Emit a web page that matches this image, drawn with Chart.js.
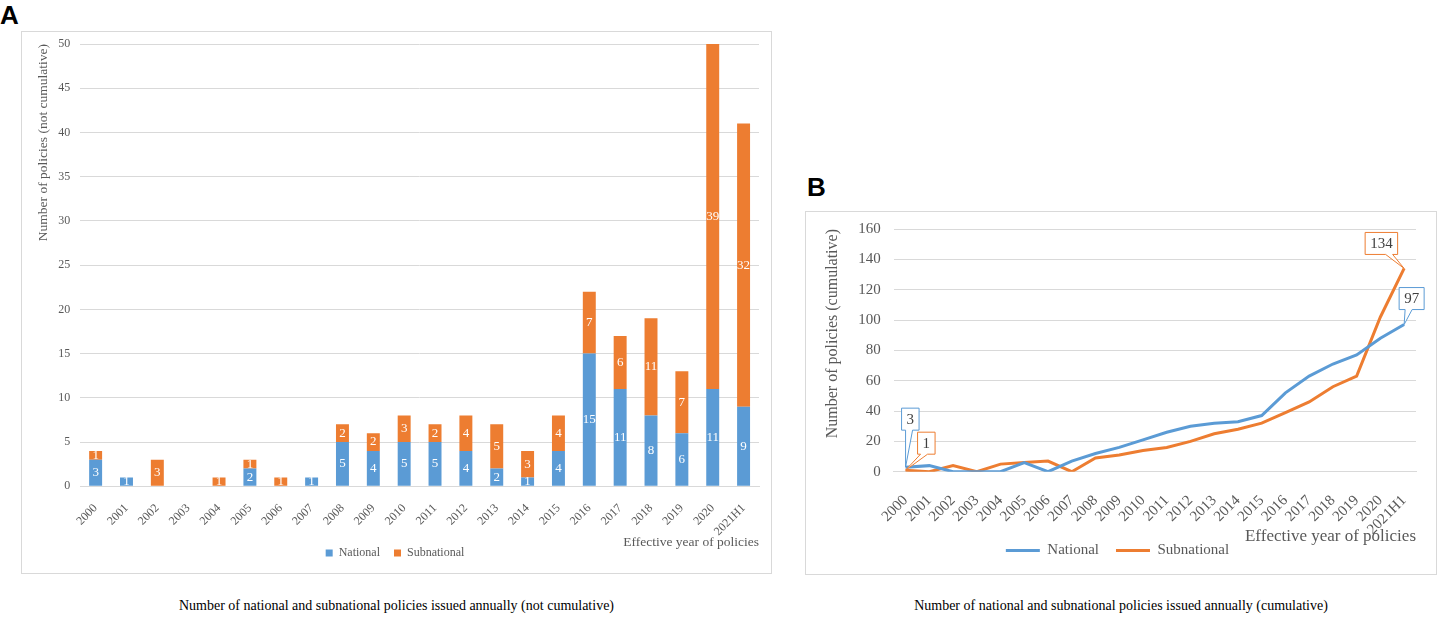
<!DOCTYPE html>
<html>
<head>
<meta charset="utf-8">
<script src="https://cdn.jsdelivr.net/npm/chart.js"></script>
<style>
  body { margin: 0; width: 1438px; height: 617px; background: #fff; position: relative; overflow: hidden; font-family: "Liberation Serif", serif; }
  .panel { position: absolute; border: 1px solid #d9d9d9; box-sizing: border-box; }
  .letter { position: absolute; font: bold 26px "Liberation Sans", Arial, sans-serif; color: #000; }
  .caption { position: absolute; font-size: 14px; color: #000; text-align: center; white-space: nowrap; }
</style>
</head>
<body>
<div class="letter" style="left:0px; top:0px;">A</div>
<div class="panel" style="left:21px; top:31px; width:751px; height:543px;"><canvas id="annualChart"></canvas></div>
<div class="caption" style="left:21px; width:751px; top:598px;">Number of national and subnational policies issued annually (not cumulative)</div>

<div class="letter" style="left:807px; top:172px;">B</div>
<div class="panel" style="left:805px; top:211px; width:632px; height:364px;"><canvas id="cumulativeChart"></canvas></div>
<div class="caption" style="left:805px; width:632px; top:598px;">Number of national and subnational policies issued annually (cumulative)</div>

<script>
const years = ['2000', '2001', '2002', '2003', '2004', '2005', '2006', '2007', '2008', '2009', '2010',
    '2011', '2012', '2013', '2014', '2015', '2016', '2017', '2018', '2019', '2020', '2021H1'];
const nationalAnnual = [3, 1, 0, 0, 0, 2, 0, 1, 5, 4, 5, 5, 4, 2, 1, 4, 15, 11, 8, 6, 11, 9];
const subnationalAnnual = [1, 0, 3, 0, 1, 1, 1, 0, 2, 2, 3, 2, 4, 5, 3, 4, 7, 6, 11, 7, 39, 32];
const nationalCumulative = [3, 4, 0, 0, 0, 6, 0, 7, 12, 16, 21, 26, 30, 32, 33, 37, 52, 63, 71, 77, 88, 97];
const subnationalCumulative = [1, 0, 4, 0, 5, 6, 7, 0, 9, 11, 14, 16, 20, 25, 28, 32, 39, 46, 56, 63, 102, 134];

const blue = '#5b9bd5';
const orange = '#ed7d31';
const grey = '#595959';
const gridGrey = '#d9d9d9';
const serif = 'Liberation Serif';

// legend items spaced a bit wider apart (like Excel)
function spacedLabels(chart) {
    const items = Chart.defaults.plugins.legend.labels.generateLabels(chart);
    items.forEach((it, i) => { if (i < items.length - 1) it.text += '    '; });
    return items;
}

// don't let the tick padding push the plot top down
function noTopPadding(scale) {
    scale.paddingTop = 0;
}

// white value labels in the middle of each stacked segment
const barLabels = {
    id: 'barLabels',
    afterDatasetsDraw(chart) {
        const ctx = chart.ctx;
        ctx.save();
        ctx.fillStyle = '#fff';
        ctx.font = '13px "' + serif + '"';
        ctx.textAlign = 'center';
        ctx.textBaseline = 'middle';
        chart.data.datasets.forEach((ds, i) => {
            chart.getDatasetMeta(i).data.forEach((bar, j) => {
                const v = ds.data[j];
                if (!v) return;
                const p = bar.getProps(['x', 'y', 'base'], true);
                ctx.fillText(String(v), p.x, (p.y + p.base) / 2);
            });
        });
        ctx.restore();
    }
};

// Excel-like callout boxes pointing at a data point
const callouts = {
    id: 'callouts',
    afterDatasetsDraw(chart, args, opts) {
        const ctx = chart.ctx;
        ctx.save();
        ctx.font = '15px "' + serif + '"';
        opts.items.forEach(c => {
            const ds = chart.data.datasets[c.dataset];
            const pt = chart.getDatasetMeta(c.dataset).data[c.index];
            const text = String(ds.data[c.index]);
            const w = ctx.measureText(text).width + 10;
            const h = 22;
            const bx = pt.x + c.dx, by = pt.y + c.dy;
            const t1 = c.tail === 'right' ? w - 12 : c.tail;
            ctx.beginPath();
            ctx.moveTo(bx, by);
            ctx.lineTo(bx + w, by);
            ctx.lineTo(bx + w, by + h);
            ctx.lineTo(bx + t1 + 7, by + h);
            ctx.lineTo(pt.x, pt.y);
            ctx.lineTo(bx + t1, by + h);
            ctx.lineTo(bx, by + h);
            ctx.closePath();
            ctx.fillStyle = '#fff';
            ctx.fill();
            ctx.strokeStyle = ds.borderColor;
            ctx.lineWidth = 1;
            ctx.stroke();
            ctx.fillStyle = '#404040';
            ctx.textAlign = 'center';
            ctx.textBaseline = 'middle';
            ctx.fillText(text, bx + w / 2, by + h / 2 + 1);
        });
        ctx.restore();
    }
};

new Chart(document.getElementById('annualChart'), {
    type: 'bar',
    data: {
        labels: years,
        datasets: [
            { label: 'National', data: nationalAnnual, backgroundColor: blue, borderWidth: 0 },
            { label: 'Subnational', data: subnationalAnnual, backgroundColor: orange, borderWidth: 0 }
        ]
    },
    options: {
        responsive: true,
        maintainAspectRatio: false,
        animation: false,
        datasets: { bar: { barPercentage: 0.42, categoryPercentage: 1 } },
        layout: { padding: { left: 9, right: 12, top: 12, bottom: 4 } },
        scales: {
            x: {
                stacked: true,
                grid: { display: false },
                border: { color: gridGrey },
                ticks: {
                    color: grey,
                    font: { family: serif, size: 12 },
                    maxRotation: 45,
                    minRotation: 45,
                    autoSkip: false,
                    padding: 7
                },
                title: {
                    display: true,
                    text: 'Effective year of policies',
                    align: 'end',
                    color: grey,
                    font: { family: serif, size: 13.5 },
                    padding: { top: -11, bottom: -6 }
                }
            },
            y: {
                stacked: true,
                min: 0,
                max: 50,
                afterFit: noTopPadding,
                ticks: { stepSize: 5, color: grey, font: { family: serif, size: 12 }, padding: 10 },
                grid: { color: gridGrey, drawTicks: false },
                border: { display: false },
                title: {
                    display: true,
                    text: 'Number of policies (not cumulative)',
                    align: 'end',
                    color: grey,
                    font: { family: serif, size: 13.5 },
                    padding: { top: 4, bottom: -3 }
                }
            }
        },
        plugins: {
            legend: {
                position: 'bottom',
                labels: {
                    boxWidth: 7,
                    boxHeight: 7,
                    color: grey,
                    font: { family: serif, size: 12 },
                    padding: 2,
                    generateLabels: spacedLabels
                }
            },
            tooltip: { enabled: false }
        }
    },
    plugins: [barLabels]
});

new Chart(document.getElementById('cumulativeChart'), {
    type: 'line',
    data: {
        labels: years,
        datasets: [
            { label: 'National', data: nationalCumulative, borderColor: blue, backgroundColor: blue, borderWidth: 3, pointRadius: 0, tension: 0 },
            { label: 'Subnational', data: subnationalCumulative, borderColor: orange, backgroundColor: orange, borderWidth: 3, pointRadius: 0, tension: 0 }
        ]
    },
    options: {
        responsive: true,
        maintainAspectRatio: false,
        animation: false,
        layout: { padding: { left: 13, right: 20, top: 17, bottom: 6 } },
        scales: {
            x: {
                offset: true,
                grid: { display: false },
                border: { color: gridGrey },
                ticks: {
                    color: grey,
                    font: { family: serif, size: 15 },
                    maxRotation: 45,
                    minRotation: 45,
                    autoSkip: false,
                    padding: 12
                },
                title: {
                    display: true,
                    text: 'Effective year of policies',
                    align: 'end',
                    color: grey,
                    font: { family: serif, size: 17 },
                    padding: { top: -24, bottom: -6 }
                }
            },
            y: {
                min: 0,
                max: 160,
                afterFit: noTopPadding,
                ticks: { stepSize: 20, color: grey, font: { family: serif, size: 15 }, padding: 13 },
                grid: { color: gridGrey, drawTicks: false },
                border: { display: false },
                title: {
                    display: true,
                    text: 'Number of policies (cumulative)',
                    align: 'end',
                    color: grey,
                    font: { family: serif, size: 16 },
                    padding: { top: 4, bottom: 3 }
                }
            }
        },
        plugins: {
            legend: {
                position: 'bottom',
                labels: {
                    usePointStyle: true,
                    pointStyle: 'line',
                    pointStyleWidth: 34,
                    color: grey,
                    font: { family: serif, size: 15 },
                    padding: 2,
                    generateLabels: spacedLabels
                }
            },
            tooltip: { enabled: false },
            callouts: {
                items: [
                    { dataset: 0, index: 0, dx: -4, dy: -59, tail: 4 },
                    { dataset: 1, index: 0, dx: 12, dy: -38, tail: 3 },
                    { dataset: 1, index: 21, dx: -39, dy: -36, tail: 'right' },
                    { dataset: 0, index: 21, dx: -5, dy: -37, tail: 6 }
                ]
            }
        }
    },
    plugins: [callouts]
});
</script>
</body>
</html>
